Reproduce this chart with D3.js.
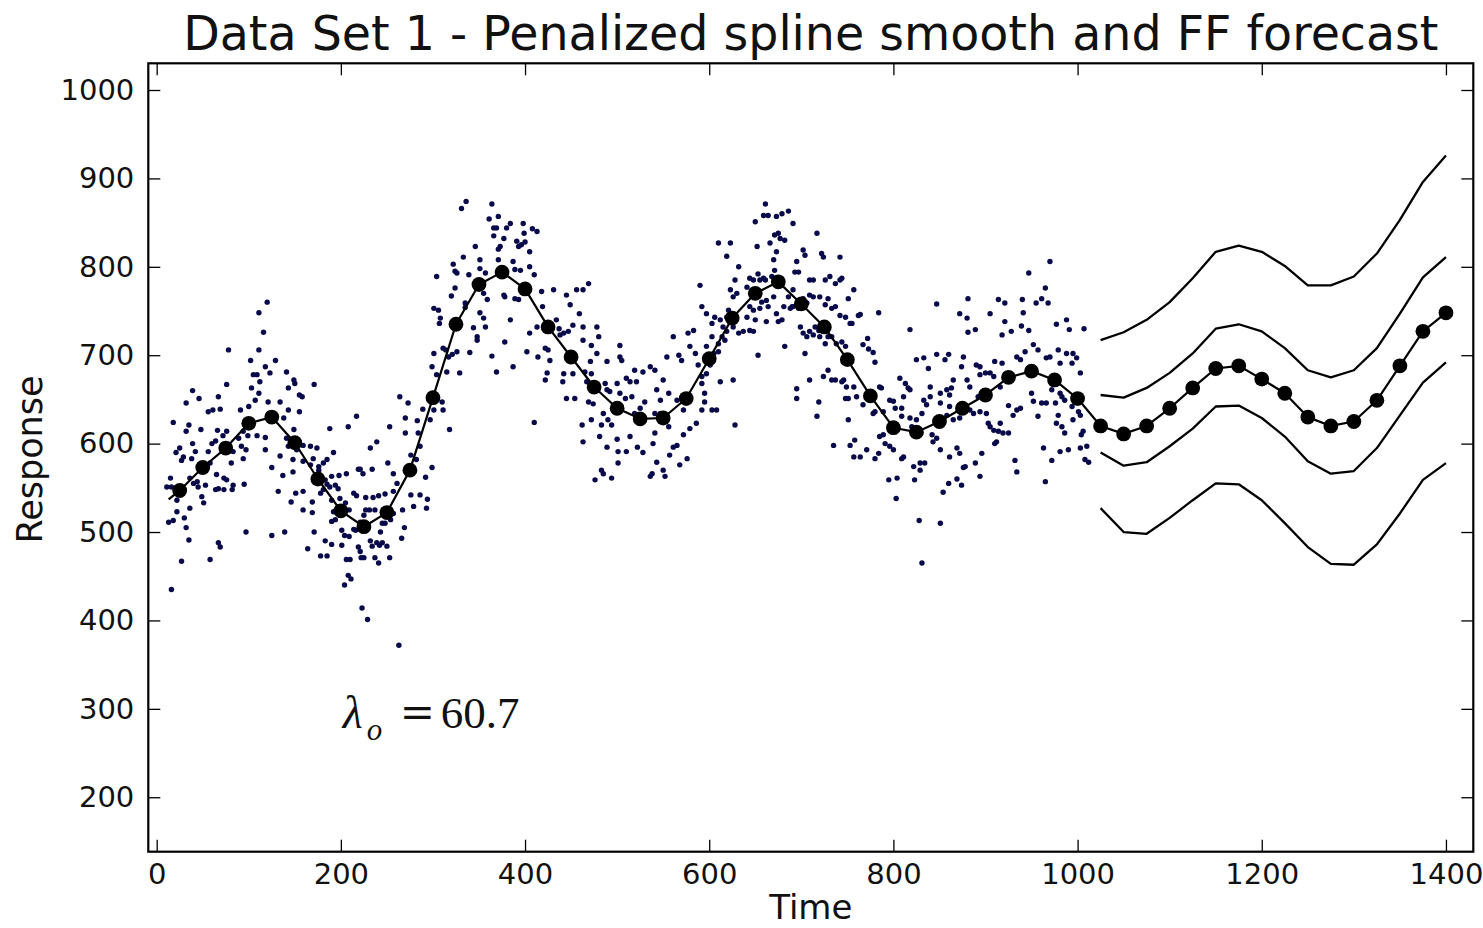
<!DOCTYPE html>
<html>
<head>
<meta charset="utf-8">
<script src="https://cdnjs.cloudflare.com/ajax/libs/d3/7.8.5/d3.min.js"></script>
<style>
  body { margin: 0; background: #fff; }
  .tick line { stroke: #000; stroke-width: 1.3; }
  .tick text { font-family: "DejaVu Sans", sans-serif; font-size: 29px; fill: #111; }
</style>
</head>
<body>
<div id="chart"></div>
<script>
// ---- data ----
var xTicks = [0, 200, 400, 600, 800, 1000, 1200, 1400];
var yTicks = [200, 300, 400, 500, 600, 700, 800, 900, 1000];

// penalized spline smooth (in sample)
var smoothTime = [13, 25, 50, 75, 100, 125, 150, 175, 200, 225, 250, 275, 300, 325, 350, 375, 400,
    425, 450, 475, 500, 525, 550, 575, 600, 625, 650, 675, 700, 725, 750, 775, 800,
    825, 850, 875, 900, 925, 950, 975, 1000];
var smoothResp = [537, 547, 573, 595, 623, 630, 601, 560, 524, 506, 522, 570, 652, 735, 780, 794, 775,
    732, 698, 664, 640, 628, 629, 651, 696, 742, 770, 783, 758, 732, 695, 654, 618,
    613, 625, 640, 655, 675, 682, 672, 651];

// FF forecast and its bands
var forecastTime = [1025, 1050, 1075, 1100, 1125, 1150, 1175, 1200, 1225, 1250, 1275, 1300, 1325, 1350, 1375, 1400];
var forecastMean = [620, 611, 620, 640, 663, 685, 688, 673, 657, 630, 620, 625, 649, 688, 727, 748];
var upperOuter   = [717, 726, 740, 760, 787, 817, 824, 817, 801, 779, 779, 789, 815, 853, 896, 926];
var upperInner   = [655, 652, 663, 680, 702, 730, 735, 727, 708, 683, 675, 683, 708, 747, 788, 811];
var lowerInner   = [590, 575, 579, 597, 617, 642, 643, 629, 608, 580, 566, 569, 595, 632, 669, 692];
var lowerOuter   = [527, 500, 498, 516, 536, 555, 554, 536, 510, 483, 464, 463, 486, 521, 559, 578];

// observations [time, response]
var observations = [
 [120,760],[111,748],[336,874],[331,866],[364,871],[361,854],[371,857],[366,844],[369,844],[384,849],
 [380,844],[366,835],[377,832],[373,823],[371,820],[391,829],[393,823],[346,823],[322,803],[333,811],
 [351,808],[371,808],[387,806],[326,793],[324,795],[351,798],[339,791],[304,789],[389,797],[357,793],
 [320,767],[324,776],[335,759],[355,770],[359,763],[377,768],[389,764],[393,763],[301,753],[306,751],
 [308,742],[307,736],[335,754],[351,748],[355,742],[357,732],[344,731],[384,740],[378,766],
 [116,726],[78,706],[111,706],[102,694],[129,694],[105,678],[109,678],[118,687],[123,680],[112,670],
 [141,681],[149,672],[150,668],[103,663],[111,657],[143,663],[155,655],[158,653],[171,667],[76,667],
 [39,660],[46,651],[32,646],[67,653],[56,636],[61,638],[69,639],[18,624],[35,621],[32,614],
 [48,616],[91,638],[100,642],[107,649],[121,647],[134,647],[130,631],[143,638],[155,636],[138,629],
 [76,614],[66,615],[39,600],[60,600],[64,603],[72,609],[89,606],[94,614],[99,609],[109,609],
 [118,607],[141,606],[149,616],[21,590],[25,595],[29,585],[27,581],[38,583],[42,591],[56,591],
 [49,574],[58,578],[65,565],[73,561],[81,578],[83,591],[94,583],[92,597],[97,593],[118,593],
 [134,586],[143,597],[152,593],[159,598],[167,597],[174,595],[148,582],[159,580],[125,573],[132,546],
 [137,564],[148,568],[167,576],[170,583],[176,574],[181,578],[185,582],[192,590],[176,570],[183,559],
 [190,563],[198,564],[206,566],[219,571],[224,566],[234,571],[239,602],[232,595],[217,631],[208,619],
 [188,617],[251,578],[257,566],[253,619],[264,653],[273,646],[270,629],[270,612],[283,626],[284,612],
 [286,597],[282,582],[276,587],[301,702],[299,687],[304,678],[311,708],[314,706],[317,698],[321,701],
 [315,681],[326,704],[329,680],[340,703],[348,721],[348,717],[364,699],[369,681],[378,715],[387,687],
 [292,562],[294,537],[293,527],[299,573],[310,647],[311,638],[318,616],[297,627],[301,638],[289,639],
 [11,551],[15,561],[16,551],[22,536],[36,561],[40,555],[44,557],[45,551],[53,553],[49,540],
 [51,533],[36,527],[22,523],[13,511],[18,513],[30,516],[32,505],[35,491],[27,467],[16,435],
 [58,469],[67,488],[69,483],[97,500],[125,496],[139,500],[67,549],[64,548],[73,548],[82,548],
 [83,553],[95,554],[76,559],[146,534],[151,544],[159,546],[159,525],[169,534],[169,522],[171,500],
 [164,481],[178,473],[185,473],[183,490],[190,486],[194,514],[190,512],[201,502],[204,496],[201,485],
 [209,495],[214,503],[206,469],[210,469],[204,440],[208,451],[211,447],[219,483],[221,478],[222,471],
 [225,471],[223,414],[229,401],[232,490],[234,484],[239,488],[237,471],[242,485],[241,465],[243,500],
 [245,488],[250,484],[253,471],[245,510],[248,510],[254,514],[257,521],[261,555],[267,525],[269,505],
 [266,493],[276,542],[279,529],[286,542],[263,372],[199,538],[205,533],[209,525],[214,544],[217,541],
 [221,571],[227,539],[227,525],[235,539],[241,541],[248,543],[257,546],[237,525],[231,525],[225,519],
 [221,511],[216,502],[185,554],[188,551],[194,553],[197,549],[178,544],[181,548],[190,536],[192,523],
 [199,519],
 [398,849],[408,843],[413,840],[399,838],[400,828],[405,817],[396,825],[405,800],[410,791],[395,796],
 [418,772],[431,774],[445,768],[456,774],[463,774],[469,781],[449,757],[459,747],[419,755],[413,732],
 [405,725],[402,704],[414,698],[422,708],[425,706],[427,694],[434,740],[437,730],[438,723],[442,725],
 [452,734],[447,727],[463,732],[463,717],[478,732],[480,721],[472,711],[478,702],[489,693],[471,693],
 [465,681],[452,679],[442,679],[441,670],[422,672],[424,680],[445,651],[454,651],[469,647],[474,645],
 [462,621],[463,602],[481,608],[483,570],[485,566],[476,559],[494,561],[489,596],[500,605],[501,591],
 [510,591],[501,578],[514,608],[522,596],[528,590],[539,600],[541,612],[543,579],[538,566],[536,563],
 [550,570],[552,563],[561,596],[565,598],[557,587],[568,576],[576,583],[572,610],[579,617],[586,623],
 [592,638],[595,647],[603,638],[608,638],[612,670],[626,672],[628,621],[572,638],[565,649],[556,657],
 [547,649],[550,672],[543,661],[541,683],[536,687],[528,681],[519,683],[521,670],[514,670],[510,674],
 [503,698],[505,694],[503,711],[500,668],[492,659],[503,657],[509,651],[516,653],[530,647],[525,640],
 [519,634],[541,634],[547,634],[554,628],[556,619],[485,634],[490,627],[494,621],[483,621],[472,627],
 [489,661],[487,668],[467,670],[472,679],[554,698],[561,721],[567,700],[570,694],[577,725],[579,710],
 [583,728],[585,702],[588,689],[592,676],[592,668],[595,657],[597,679],[601,689],[605,702],[597,710],
 [603,721],[610,704],[610,713],[614,721],[617,717],[619,727],[615,732],[612,740],[606,743],[603,736],
 [592,755],[590,779],[597,747],[619,743],[621,751],[623,774],[626,766],[630,770],[628,785],[632,800],
 [626,732],[632,725],[637,727],[644,728],[648,727],[641,743],[644,755],[648,751],[650,740],[653,700],
 [655,753],[657,760],[662,762],[661,785],[664,755],[662,738],[670,766],[673,747],[675,738],[679,740],
 [681,755],[686,766],[682,710],[688,753],[691,774],[690,755],[693,794],[697,794],[695,806],[702,819],
 [704,813],[709,785],[713,785],[717,838],[722,815],[724,811],[726,785],[731,789],[737,781],[742,785],
 [744,787],[742,811],[751,764],[757,774],[762,745],[661,871],[659,858],[650,851],[664,858],[673,857],
 [679,860],[686,863],[691,849],[675,838],[671,836],[677,832],[682,830],[666,827],[673,817],[670,808],
 [671,796],[668,789],[659,787],[653,792],[655,785],[648,785],[644,787],[641,777],[652,823],[610,827],
 [623,827],[619,812],[691,755],[697,753],[702,764],[706,759],[709,768],[713,766],[720,766],[726,757],
 [729,764],[733,753],[737,755],[742,745],[748,743],[753,736],[699,732],[702,725],[706,721],[709,727],
 [713,723],[715,732],[719,728],[720,721],[726,713],[729,721],[733,721],[738,713],[744,715],[748,710],
 [755,736],[737,672],[746,672],[749,664],[757,664],[760,653],[751,651],[704,702],[709,672],[695,662],
 [695,651],[719,647],[717,631],[724,676],[729,683],[733,672],[744,670],[748,651],[751,627],[753,598],
 [757,585],[758,604],[735,598],[410,624],
 [970,806],[947,793],[965,776],[914,763],[921,759],[940,763],[955,759],[961,764],[968,759],[881,764],
 [847,758],[872,747],[880,742],[905,747],[941,748],[784,748],[764,746],[818,729],[881,726],[889,729],
 [921,738],[918,723],[928,727],[939,733],[947,728],[977,735],[988,740],[991,729],[1007,730],[772,719],
 [767,712],[773,707],[778,703],[780,692],[825,695],[833,697],[847,701],[860,701],[856,695],[876,698],
 [890,689],[894,687],[910,693],[918,691],[934,698],[938,695],[943,704],[952,712],[957,706],[966,697],
 [970,698],[979,706],[988,702],[995,702],[994,691],[1003,680],[999,697],[981,691],[838,685],[807,674],
 [813,668],[816,663],[811,653],[818,661],[840,664],[851,657],[858,661],[861,655],[863,663],[865,672],
 [874,687],[880,672],[883,664],[894,678],[900,680],[905,680],[909,676],[916,664],[892,653],[767,644],
 [771,653],[780,636],[778,634],[785,664],[787,663],[789,636],[796,649],[800,648],[802,640],[809,640],
 [809,631],[818,629],[820,619],[825,627],[831,634],[833,649],[836,644],[840,653],[851,646],[861,642],
 [858,632],[865,627],[872,629],[883,638],[887,634],[894,636],[901,634],[903,623],[905,619],[909,615],
 [914,614],[916,623],[925,612],[912,602],[910,600],[925,643],[930,632],[934,638],[938,640],[950,657],
 [952,648],[957,631],[961,646],[966,646],[972,661],[976,646],[981,657],[983,653],[986,649],[979,632],
 [977,623],[983,619],[986,612],[994,642],[995,627],[1001,636],[1003,632],[1004,610],[1006,614],[1010,597],
 [1008,582],[1012,579],[1003,595],[963,595],[972,581],[981,591],[990,593],[965,557],[932,581],[934,568],
 [919,612],[896,589],[889,578],[878,574],[872,589],[869,595],[861,585],[876,573],[894,563],[874,553],
 [869,560],[860,555],[854,545],[851,593],[847,606],[843,602],[842,610],[834,578],[823,559],[829,570],
 [822,574],[829,578],[811,585],[809,583],[804,561],[795,559],[800,593],[796,597],[791,600],[789,610],
 [785,608],[784,589],[780,583],[771,593],[764,585],[803,538],[828,513],[851,510],[831,465]
];

var lambdaTime = 202, lambdaResp = 278;

// ---- layout ----
var width = 1483,
    height = 928;
var margin = {top: 63.3, right: 9.7, bottom: 76.3, left: 148.3};
var innerW = width - margin.left - margin.right,
    innerH = height - margin.top - margin.bottom;

var svg = d3.select("#chart")
    .append("svg")
    .attr("width", width)
    .attr("height", height)
    .style("font-family", "'DejaVu Sans', sans-serif");

var g = svg.append("g")
    .attr("transform", "translate(" + margin.left + "," + margin.top + ")");

// Define scale
var x = d3.scaleLinear()
    .domain([-9.1, 1429.7])
    .range([0, innerW]);

var y = d3.scaleLinear()
    .domain([138.4, 1030.2])
    .range([innerH, 0]);

// scatter of observations
g.append("g")
    .attr("class", "obs")
    .selectAll("circle")
    .data(observations)
    .enter()
    .append("circle")
    .attr("cx", function(d) { return x(d[0]); })
    .attr("cy", function(d) { return y(d[1]); })
    .attr("r", 2.7)
    .style("fill", "#0a0a4a");

var line = d3.line()
    .x(function(d) { return x(d.t); })
    .y(function(d) { return y(d.v); });

function pairs(ts, vs) {
    return ts.map(function(t, i) { return {t: t, v: vs[i]}; });
}

// band lines
var bands = [upperOuter, upperInner, lowerInner, lowerOuter];
g.append("g")
    .attr("class", "bands")
    .selectAll("path")
    .data(bands)
    .enter()
    .append("path")
    .attr("d", function(d) { return line(pairs(forecastTime, d)); })
    .style("fill", "none")
    .style("stroke", "#000")
    .style("stroke-width", 2.3)
    .style("stroke-linejoin", "round");

// smooth + forecast mean
var meanPts = pairs(smoothTime, smoothResp).concat(pairs(forecastTime, forecastMean));
g.append("path")
    .attr("d", line(meanPts))
    .style("fill", "none")
    .style("stroke", "#000")
    .style("stroke-width", 2.2)
    .style("stroke-linejoin", "round");

g.append("g")
    .attr("class", "knots")
    .selectAll("circle")
    .data(meanPts.filter(function(d) { return d.t % 25 === 0; }))
    .enter()
    .append("circle")
    .attr("cx", function(d) { return x(d.t); })
    .attr("cy", function(d) { return y(d.v); })
    .attr("r", 7.4)
    .style("fill", "#000");

// axes, ticks pointing inward on all four sides
var tickLen = 12;
var fmt = d3.format("d");
var xBottom = g.append("g")
    .attr("transform", "translate(0," + innerH + ")")
    .call(d3.axisBottom(x).tickValues(xTicks).tickSize(-tickLen).tickPadding(12).tickFormat(fmt));
var xTop = g.append("g")
    .call(d3.axisTop(x).tickValues(xTicks).tickSize(-tickLen).tickFormat(""));
var yLeft = g.append("g")
    .call(d3.axisLeft(y).tickValues(yTicks).tickSize(-tickLen).tickPadding(14).tickFormat(fmt));
var yRight = g.append("g")
    .attr("transform", "translate(" + innerW + ",0)")
    .call(d3.axisRight(y).tickValues(yTicks).tickSize(-tickLen).tickFormat(""));

[xBottom, xTop, yLeft, yRight].forEach(function(a) {
    a.select(".domain").remove();
});

g.append("rect")
    .attr("width", innerW)
    .attr("height", innerH)
    .style("fill", "none")
    .style("stroke", "#000")
    .style("stroke-width", 2.2);

// titles
svg.append("text")
    .attr("x", margin.left + innerW / 2)
    .attr("y", 50)
    .attr("text-anchor", "middle")
    .style("font-size", "47.5px")
    .style("fill", "#111")
    .text("Data Set 1 - Penalized spline smooth and FF forecast");

svg.append("text")
    .attr("x", margin.left + innerW / 2)
    .attr("y", 919)
    .attr("text-anchor", "middle")
    .style("font-size", "34px")
    .style("fill", "#111")
    .text("Time");

svg.append("text")
    .attr("transform", "translate(42," + (margin.top + innerH / 2 + 2) + ") rotate(-90)")
    .attr("text-anchor", "middle")
    .style("font-size", "35px")
    .style("fill", "#111")
    .text("Response");

// lambda annotation
var lx = x(lambdaTime), ly = y(lambdaResp);
var ann = g.append("g")
    .attr("transform", "translate(" + lx + "," + ly + ")")
    .style("fill", "#111");
ann.append("text")
    .style("font-family", "'Liberation Serif', serif")
    .style("font-style", "italic")
    .style("font-size", "46px")
    .text("λ");
ann.append("text")
    .attr("x", 24)
    .attr("y", 12)
    .style("font-family", "'Liberation Serif', serif")
    .style("font-style", "italic")
    .style("font-size", "31px")
    .text("o");
ann.append("text")
    .attr("x", 57)
    .attr("y", -1)
    .style("font-family", "'DejaVu Serif', serif")
    .style("font-size", "42px")
    .text("=");
ann.append("text")
    .attr("x", 98)
    .style("font-family", "'Liberation Serif', serif")
    .style("font-size", "45px")
    .text("60.7");
</script>
</body>
</html>
